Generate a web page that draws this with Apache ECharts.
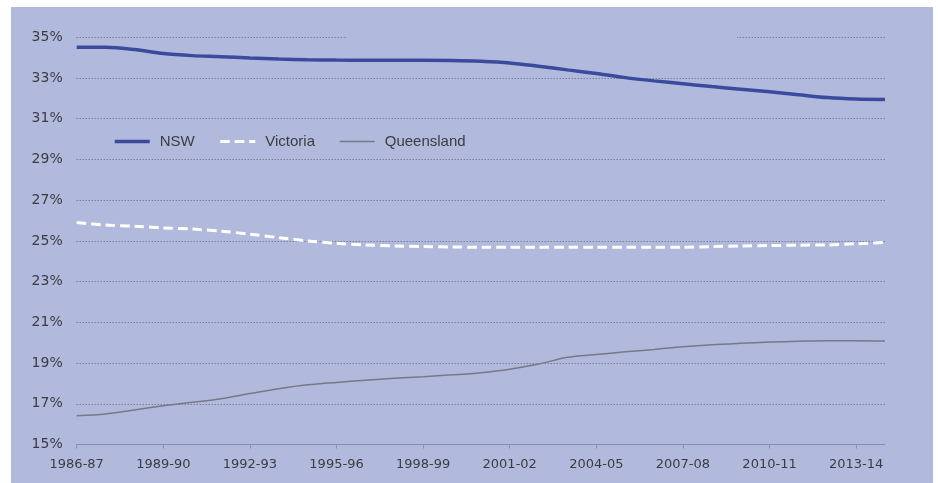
<!DOCTYPE html>
<html>
<head>
<meta charset="utf-8">
<title>Share of national population by state</title>
<script src="https://cdn.jsdelivr.net/npm/echarts@6/dist/echarts.min.js"></script>
<style>
  html, body { margin: 0; padding: 0; background: #ffffff; }
  #wrap { position: relative; width: 938px; height: 483px; background: #ffffff; overflow: hidden; }
  #chart { position: absolute; left: 11px; top: 7px; width: 922px; height: 476px; }
</style>
</head>
<body>
<div id="wrap"><div id="chart"></div></div>
<script>
// Financial years 1986-87 to 2014-15
const years = [
  '1986-87','1987-88','1988-89','1989-90','1990-91','1991-92','1992-93','1993-94',
  '1994-95','1995-96','1996-97','1997-98','1998-99','1999-00','2000-01','2001-02',
  '2002-03','2003-04','2004-05','2005-06','2006-07','2007-08','2008-09','2009-10',
  '2010-11','2011-12','2012-13','2013-14','2014-15'
];

// Share of total (%)
const nsw = [
  34.51, 34.51, 34.40, 34.20, 34.10, 34.05, 33.98, 33.93, 33.90, 33.88,
  33.87, 33.87, 33.87, 33.86, 33.82, 33.74, 33.58, 33.40, 33.22, 33.02,
  32.86, 32.72, 32.58, 32.45, 32.32, 32.18, 32.04, 31.97, 31.95
];
const victoria = [
  25.90, 25.78, 25.72, 25.64, 25.58, 25.48, 25.33, 25.16, 25.00, 24.88,
  24.80, 24.75, 24.72, 24.70, 24.69, 24.69, 24.69, 24.69, 24.69, 24.69,
  24.69, 24.69, 24.72, 24.75, 24.77, 24.79, 24.80, 24.86, 24.93
];
const queensland = [
  16.41, 16.50, 16.70, 16.90, 17.07, 17.25, 17.50, 17.74, 17.93, 18.05,
  18.15, 18.25, 18.33, 18.42, 18.53, 18.70, 18.95, 19.28, 19.42, 19.55,
  19.67, 19.80, 19.90, 19.97, 20.03, 20.07, 20.10, 20.10, 20.08
];

const yMin = 15, yMax = 35, yStep = 2;

const bg = '#b1badc';
const textColor = '#3c3c40';
const tickFont = 'DejaVu Sans';

const chart = echarts.init(document.getElementById('chart'), null, { renderer: 'canvas' });

chart.setOption({
  backgroundColor: bg,
  animation: false,
  grid: { left: 65.7, right: 48, top: 30.3, bottom: 38.5, containLabel: false },
  legend: {
    left: 97,
    top: 122,
    itemWidth: 35,
    itemHeight: 12,
    itemGap: 24,
    itemStyle: { opacity: 0 },
    textStyle: {
      fontFamily: 'Liberation Sans',
      fontSize: 15,
      color: textColor,
      padding: [0, 0, 0, 5]
    },
    data: [
      { name: 'NSW', lineStyle: { width: 3.5 } },
      { name: 'Victoria', lineStyle: { width: 3 } },
      { name: 'Queensland', lineStyle: { width: 1.5 } }
    ]
  },
  xAxis: {
    type: 'category',
    data: years,
    boundaryGap: false,
    axisLine: { show: true, lineStyle: { color: '#8a8fa3', width: 1 } },
    axisTick: { show: true, interval: 2, length: 4, lineStyle: { color: '#8a8fa3' } },
    axisLabel: {
      interval: 2,
      margin: 14,
      fontFamily: tickFont,
      fontSize: 13,
      color: textColor
    },
    splitLine: { show: false }
  },
  yAxis: {
    type: 'value',
    min: yMin,
    max: yMax,
    interval: yStep,
    axisLine: { show: false },
    axisTick: { show: false },
    axisLabel: {
      margin: 14,
      fontFamily: tickFont,
      fontSize: 14,
      color: textColor,
      formatter: v => v + '%'
    },
    splitLine: {
      show: true,
      lineStyle: { color: '#5e6375', width: 1, type: [1, 2] }
    }
  },
  graphic: [
    {
      // break in the top grid line
      type: 'rect',
      z: 100,
      shape: { x: 336, y: 27, width: 390, height: 7 },
      style: { fill: bg }
    }
  ],
  series: [
    {
      name: 'NSW',
      type: 'line',
      data: nsw,
      symbol: 'none',
      smooth: 0.3,
      lineStyle: { color: '#3b4a9c', width: 3.5 },
      itemStyle: { color: '#3b4a9c' },
      z: 4
    },
    {
      name: 'Victoria',
      type: 'line',
      data: victoria,
      symbol: 'none',
      smooth: 0.3,
      lineStyle: { color: '#ffffff', width: 3, type: [9.5, 5] },
      itemStyle: { color: '#ffffff' },
      z: 3
    },
    {
      name: 'Queensland',
      type: 'line',
      data: queensland,
      symbol: 'none',
      smooth: 0.3,
      lineStyle: { color: '#76798a', width: 1.5 },
      itemStyle: { color: '#76798a' },
      z: 3
    }
  ]
});
</script>
</body>
</html>
